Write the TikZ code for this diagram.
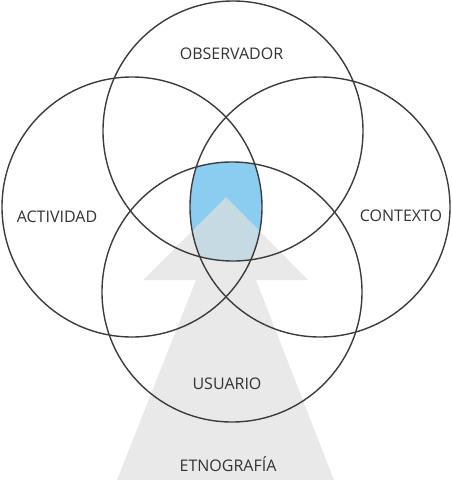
\documentclass[tikz,border=0pt]{standalone}
\usepackage{fontspec}
\setmainfont{Open Sans}
\definecolor{zoneblue}{RGB}{139,205,240}
\definecolor{arrowgray}{RGB}{224,224,224}
\definecolor{ringline}{RGB}{60,60,60}
\definecolor{labeltext}{RGB}{50,50,50}
\begin{document}
\begin{tikzpicture}[x=1pt,y=-1pt,
  ring/.style={circle,draw=ringline,line width=1.4pt,minimum size=260pt,inner sep=0pt},
  lbl/.style={font=\fontsize{16}{16}\selectfont,text=labeltext,inner sep=0pt}]
\useasboundingbox (0,0) rectangle (452,480);
% central four-way intersection
\begin{scope}
  \clip (233,131) circle (130pt);
  \clip (132,207) circle (130pt);
  \clip (320,207) circle (130pt);
  \clip (232,292) circle (130pt);
  \fill[zoneblue] (0,0) rectangle (452,480);
\end{scope}
% arrow
\fill[arrowgray,fill opacity=0.7] (226,197) -- (308,280) -- (256,280) -- (334,480)
  -- (117,480) -- (196,280) -- (143,280) -- cycle;
% circles
\node[ring] (top) at (233,131) {};
\node[ring] (left) at (132,207) {};
\node[ring] (right) at (320,207) {};
\node[ring] (bottom) at (232,292) {};
% labels
\node[lbl,anchor=base] (lobs) at (231.5,59) {OBSERVADOR};
\node[lbl,anchor=base] (lact) at (57,222) {ACTIVIDAD};
\node[lbl,anchor=base] (lcon) at (401,221) {CONTEXTO};
\node[lbl,anchor=base] (lusu) at (227,389) {USUARIO};
\node[lbl,anchor=base] (leth) at (228,471) {ETNOGRAFÍA};
\end{tikzpicture}
\end{document}
